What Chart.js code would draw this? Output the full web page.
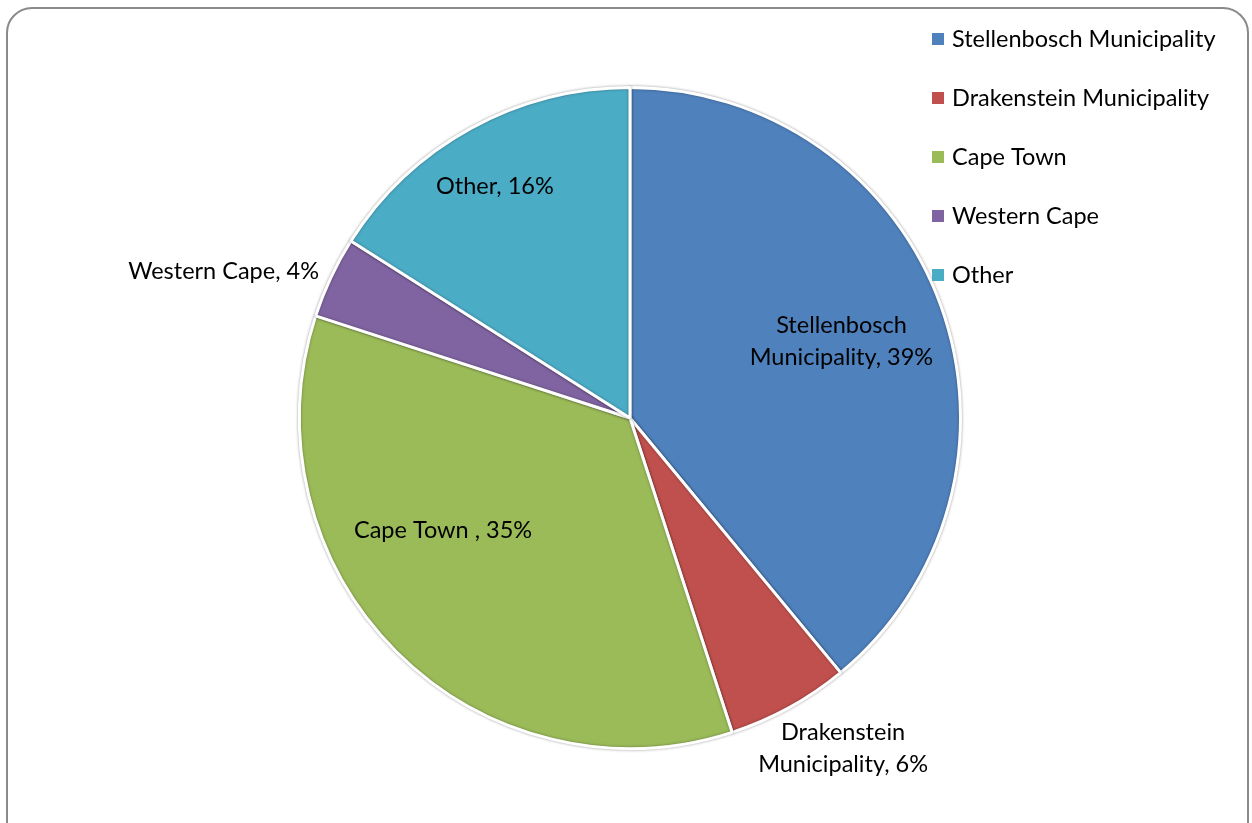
<!DOCTYPE html>
<html>
<head>
<meta charset="utf-8">
<script src="https://cdn.jsdelivr.net/npm/chart.js@4"></script>
<style>
  html, body { margin: 0; padding: 0; background: #fff; }
  #wrap { position: relative; width: 1252px; height: 823px; overflow: hidden; }
  #frame {
    position: absolute; left: 6px; top: 7px; width: 1243px; height: 850px;
    border: 2px solid #8a8a8a; border-radius: 26px; box-sizing: border-box;
  }
  canvas { position: absolute; left: 0; top: 0; }
</style>
</head>
<body>
<div id="wrap">
  <div id="frame"></div>
  <canvas id="myChart" width="1252" height="823"></canvas>
</div>
<script>
var categories = ['Stellenbosch Municipality', 'Drakenstein Municipality', 'Cape Town', 'Western Cape', 'Other'];
var shares = [39, 6, 35, 4, 16];
var slice_colors = ['#4F81BD', '#C0504D', '#9BBB59', '#8064A2', '#4BACC6'];
// data label text, one entry of lines per slice
var label_lines = [
    ['Stellenbosch', 'Municipality, 39%'],
    ['Drakenstein', 'Municipality, 6%'],
    ['Cape Town , 35%'],
    ['Western Cape, 4%'],
    ['Other, 16%']
];
// label placement: radius factor, angle nudge (deg), text alignment
var label_place = [
    { f: 0.68, da: 0, align: 'center' },
    { f: 1.19, da: -4, align: 'center' },
    { f: 0.66, da: 14, align: 'center' },
    { f: 1.04, da: 0, align: 'right' },
    { f: 0.81, da: -1.5, align: 'center' }
];

const FONT = '23.5px Lato, "Open Sans", sans-serif';

// soft grey edge around the white slice separators
const sliceShadow = {
    id: 'sliceShadow',
    beforeDatasetsDraw(chart) {
        const c = chart.ctx;
        c.save();
        c.shadowColor = 'rgba(0,0,0,0.35)';
        c.shadowBlur = 3;
    },
    afterDatasetsDraw(chart) {
        chart.ctx.restore();
    }
};

const sliceLabels = {
    id: 'sliceLabels',
    afterDatasetsDraw(chart) {
        const c = chart.ctx;
        const arcs = chart.getDatasetMeta(0).data;
        c.save();
        c.font = FONT;
        c.fillStyle = '#000';
        c.textBaseline = 'middle';
        arcs.forEach(function (arc, i) {
            const p = label_place[i];
            const mid = (arc.startAngle + arc.endAngle) / 2 + p.da * Math.PI / 180;
            const r = arc.outerRadius * p.f;
            const x = arc.x + Math.cos(mid) * r;
            const y = arc.y + Math.sin(mid) * r;
            const lines = label_lines[i];
            const lh = 32;
            c.textAlign = p.align;
            lines.forEach(function (t, k) {
                c.fillText(t, x, y + (k - (lines.length - 1) / 2) * lh);
            });
        });
        c.restore();
    }
};

// legend drawn at the top right, square markers
const sideLegend = {
    id: 'sideLegend',
    afterDraw(chart) {
        const c = chart.ctx;
        c.save();
        c.font = FONT;
        c.textBaseline = 'middle';
        c.textAlign = 'left';
        categories.forEach(function (name, i) {
            const y = 39 + i * 59;
            c.fillStyle = slice_colors[i];
            c.fillRect(932, y - 6, 12, 12);
            c.fillStyle = '#000';
            c.fillText(name, 952, y);
        });
        c.restore();
    }
};

const ctx = document.getElementById('myChart').getContext('2d');
var myChart = new Chart(ctx, {
    type: 'pie',
    data: {
        labels: categories,
        datasets: [{
            data: shares,
            backgroundColor: slice_colors,
            borderColor: '#ffffff',
            borderWidth: 3
        }]
    },
    options: {
        responsive: false,
        animation: false,
        layout: { padding: { left: 298, right: 290, top: 86, bottom: 73 } },
        plugins: {
            legend: { display: false },
            tooltip: { enabled: false }
        }
    },
    plugins: [sliceShadow, sliceLabels, sideLegend]
});
</script>
</body>
</html>
